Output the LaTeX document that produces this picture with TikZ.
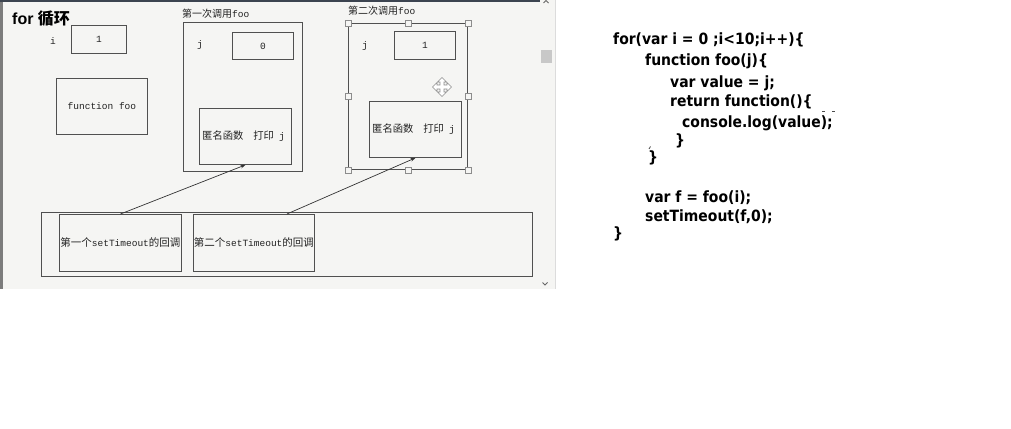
\documentclass[tikz,border=0pt]{standalone}
\usepackage{fontspec}
\setmainfont{Liberation Sans}
\setmonofont{Liberation Mono}
\newfontfamily\cjk{Noto Sans CJK SC}
\newfontfamily\codefont[FakeStretch=0.9]{DejaVu Sans}
\usetikzlibrary{arrows.meta}
\definecolor{panelbg}{HTML}{F5F5F3}
\definecolor{boxline}{HTML}{505050}
\definecolor{ptext}{HTML}{222222}
\definecolor{frameleft}{HTML}{7C7C7C}
\definecolor{frametop}{HTML}{3C4450}
\definecolor{handlec}{HTML}{8C8C8C}
\definecolor{thumbc}{HTML}{C8C8C8}
\definecolor{sepc}{HTML}{DCDCDC}
\begin{document}
\begin{tikzpicture}[x=1pt,y=-1pt,
  box/.style={draw=boxline, line width=0.9pt, inner sep=0pt, anchor=north west, text=ptext},
  mono/.style={font=\ttfamily\fontsize{9.5}{12}\selectfont, text=ptext, inner sep=0pt},
  cjklabel/.style={font=\cjk\fontsize{10}{12}\selectfont, text=ptext, inner sep=0pt, anchor=west},
  anontext/.style={font=\cjk\fontsize{10.3}{12}\selectfont, text=ptext, inner sep=0pt, anchor=west},
  cbtext/.style={font=\cjk\fontsize{10.5}{12}\selectfont, text=ptext, inner sep=0pt},
  code/.style={font=\codefont\bfseries\fontsize{15.5}{18}\selectfont, inner sep=0pt, anchor=west, text height=11pt, text depth=3pt},
  arr/.style={draw=black!80, line width=0.7pt, -{Stealth[length=5pt,width=3.5pt]}},
  handle/.style={draw=handlec, line width=0.6pt, fill=panelbg},
  title/.style={font=\bfseries\fontsize{16}{18}\selectfont, inner sep=0pt, anchor=west}
]
\useasboundingbox (0,0) rectangle (1011,428);
\fill[white] (0,0) rectangle (1011,428);
% panel (screenshot) background and frame
\fill[panelbg] (0,0) rectangle (555,289);
\fill[frameleft] (0,0) rectangle (2.5,289);
\draw[frametop, line width=1.6pt] (0,0.8) -- (540,0.8);
\draw[sepc, line width=0.8pt] (555,0) -- (555,289);
\fill[thumbc] (541,50) rectangle (552,63);
\draw[black!60, line width=0.8pt] (543.5,3) -- (546,0.5) -- (548.5,3);
\draw[black!60, line width=0.8pt] (542.5,282.5) -- (545,285) -- (547.5,282.5);

% title
\node[title] (ttl) at (12,19) {for {\cjk\bfseries 循环}};

% i and function foo
\node[mono] (ilab) at (53,41) {i};
\node[box, minimum width=55pt, minimum height=28pt] (ibox) at (71,25) {};
\node[mono] (ival) at (ibox.center) {1};
\node[box, minimum width=91pt, minimum height=56pt] (foo) at (56,78) {};
\node[mono] (footxt) at (foo.center) {function foo};

% first call
\node[cjklabel] (lab1) at (182,14) {第一次调用{\ttfamily\fontsize{9.5}{12}\selectfont foo}};
\node[box, minimum width=119pt, minimum height=149pt] (call1) at (183,22) {};
\node[mono] (j1) at (200,45) {j};
\node[box, minimum width=61pt, minimum height=27pt] (zero) at (232,32) {};
\node[mono] (zval) at (zero.center) {0};
\node[box, minimum width=92pt, minimum height=56pt] (anon1) at (199,108) {};
\node[anontext] (anon1t) at ([xshift=3pt]anon1.west) {匿名函数\hspace{10pt}打印\hspace{5pt}{\ttfamily\fontsize{9.5}{12}\selectfont j}};

% second call
\node[cjklabel] (lab2) at (348,11) {第二次调用{\ttfamily\fontsize{9.5}{12}\selectfont foo}};
\node[box, minimum width=119pt, minimum height=146pt] (call2) at (348,23) {};
\node[mono] (j2) at (365,46) {j};
\node[box, minimum width=61pt, minimum height=28pt] (one) at (394,31) {};
\node[mono] (oval) at (one.center) {1};
\node[box, minimum width=92pt, minimum height=56pt] (anon2) at (369,101) {};
\node[anontext] (anon2t) at ([xshift=3pt]anon2.west) {匿名函数\hspace{10pt}打印\hspace{5pt}{\ttfamily\fontsize{9.5}{12}\selectfont j}};

% selection handles
\foreach \p in {north west, north, north east, west, east, south west, south, south east}
  \draw[handle] ([shift={(-3,-3)}]call2.\p) rectangle ([shift={(3,3)}]call2.\p);

% move cursor icon
\begin{scope}[shift={(442,87)}]
\draw[handlec, fill=white, line width=0.6pt, line join=miter]
  (-2,-2) -- (-2,-5) -- (-4.5,-5) -- (0,-9.5) -- (4.5,-5) -- (2,-5) -- (2,-2)
  -- (5,-2) -- (5,-4.5) -- (9.5,0) -- (5,4.5) -- (5,2) -- (2,2)
  -- (2,5) -- (4.5,5) -- (0,9.5) -- (-4.5,5) -- (-2,5) -- (-2,2)
  -- (-5,2) -- (-5,4.5) -- (-9.5,0) -- (-5,-4.5) -- (-5,-2) -- cycle;
\end{scope}

% callback queue
\node[box, minimum width=491pt, minimum height=64pt] (queue) at (41,212) {};
\node[box, minimum width=122pt, minimum height=57pt] (cb1) at (59,214) {};
\node[cbtext] (cb1t) at (cb1.center) {第一个{\ttfamily\fontsize{9.5}{12}\selectfont setTimeout}的回调};
\node[box, minimum width=121pt, minimum height=57pt] (cb2) at (193,214) {};
\node[cbtext] (cb2t) at (cb2.center) {第二个{\ttfamily\fontsize{9.5}{12}\selectfont setTimeout}的回调};

\coordinate (a2s) at ([xshift=-28pt]cb2.north east);
\draw[arr] (cb1.north) -- (anon1.south);
\draw[arr] (a2s) -- (anon2.south);

% code
\node[code] (c1) at (613,41) {for(var i = 0 ;i<10;i++)\{};
\node[code] (c2) at (645,62) {function foo(j)\{};
\node[code] (c3) at (670,83) {var value = j;};
\node[code] (c4) at (670,102) {return function()\{};
\node[code] (c5) at (682,123) {console.log(value);};
\node[code] (c6) at (675,141) {\}};
\node[code] (c7) at (648,158) {\}};
\node[code] (c8) at (645,198) {var f = foo(i);};
\node[code] (c9) at (645,217) {setTimeout(f,0);};
\node[code] (c10) at (613,234) {\}};
% small artifacts near the code
\draw[black!70, line width=0.8pt] (822,111) -- (825,111) (832,111) -- (835,111);
\draw[black!70, line width=0.8pt] (649,149) -- (650.5,146.5);
\end{tikzpicture}
\end{document}
